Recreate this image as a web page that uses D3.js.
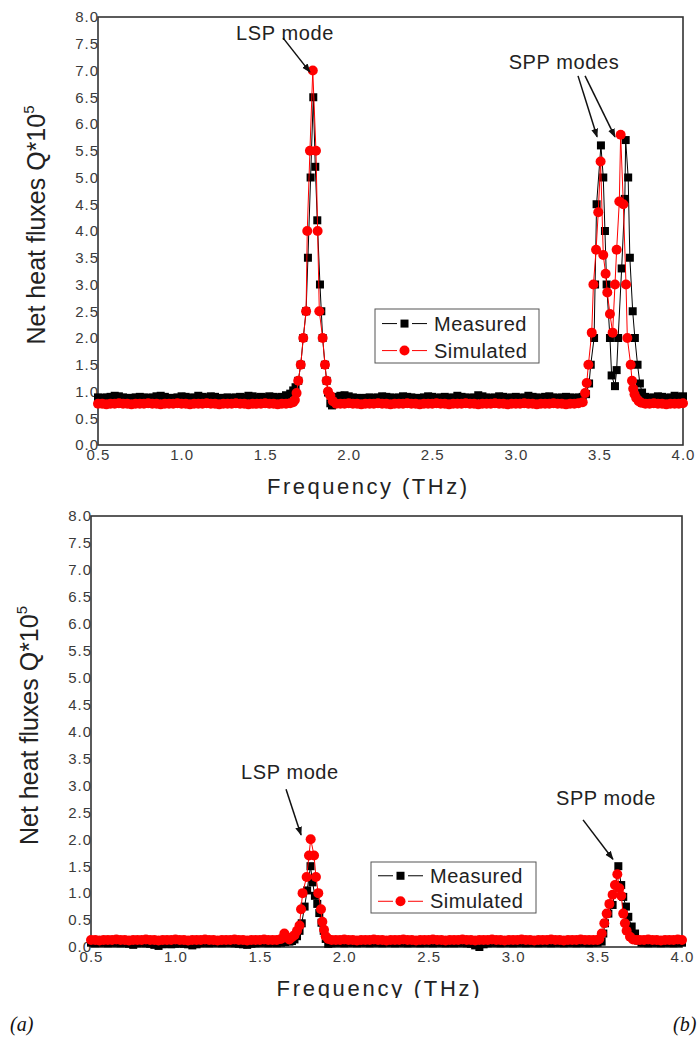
<!DOCTYPE html>
<html>
<head>
<meta charset="utf-8">
<script src="https://cdn.jsdelivr.net/npm/d3@7"></script>
<style>
  body { margin: 0; background: #fff; }
  text { font-family: "Liberation Sans", Arial, sans-serif; }
</style>
</head>
<body>
<div id="plot"></div>
<script>
// ---- data: [frequency THz, Q*1e5] ----
const xTicks = [0.5, 1.0, 1.5, 2.0, 2.5, 3.0, 3.5, 4.0];
const yTicks = [0, 0.5, 1, 1.5, 2, 2.5, 3, 3.5, 4, 4.5, 5, 5.5, 6, 6.5, 7, 7.5, 8];
const seriesNames = ["Measured", "Simulated"];

// panel (a)
const measuredA = [
  [0.5,.89],[0.525,.88],[0.55,.89],[0.575,.9],[0.6,.92],[0.625,.91],[0.65,.89],[0.675,.88],[0.7,.88],[0.725,.89],
  [0.75,.9],[0.775,.89],[0.8,.88],[0.825,.89],[0.85,.91],[0.875,.92],[0.9,.9],[0.925,.88],[0.95,.88],[0.975,.89],
  [1.0,.91],[1.025,.9],[1.05,.88],[1.075,.89],[1.1,.92],[1.125,.9],[1.15,.89],[1.175,.91],[1.2,.9],[1.225,.88],
  [1.25,.88],[1.275,.89],[1.3,.88],[1.325,.89],[1.35,.9],[1.375,.89],[1.4,.92],[1.425,.91],[1.45,.89],[1.475,.9],
  [1.5,.89],[1.525,.91],[1.55,.9],[1.575,.89],[1.6,.9],[1.625,.93],[1.65,.96],[1.668,1.02],[1.682,1.08],
  [1.698,1.2],[1.713,1.5],[1.728,2.0],[1.745,2.5],[1.756,3.5],[1.772,5.0],[1.788,6.5],[1.8,5.2],[1.812,4.2],
  [1.828,3.0],[1.836,2.5],[1.844,2.0],[1.858,1.5],[1.868,1.2],[1.876,.98],[1.89,.78],[1.9,.74],[1.912,.86],
  [1.925,.9],[1.95,.92],[1.975,.93],[2.0,.91],[2.025,.89],[2.05,.88],[2.075,.88],[2.1,.88],[2.125,.89],[2.15,.88],
  [2.175,.89],[2.2,.91],[2.225,.9],[2.25,.89],[2.275,.88],[2.3,.89],[2.325,.91],[2.35,.9],[2.375,.89],[2.4,.88],
  [2.425,.88],[2.45,.89],[2.475,.91],[2.5,.9],[2.525,.88],[2.55,.89],[2.575,.9],[2.6,.88],[2.625,.89],[2.65,.92],
  [2.675,.9],[2.7,.89],[2.725,.88],[2.75,.89],[2.775,.93],[2.8,.91],[2.825,.89],[2.85,.88],[2.875,.89],[2.9,.91],
  [2.925,.9],[2.95,.88],[2.975,.89],[3.0,.9],[3.025,.88],[3.05,.89],[3.075,.92],[3.1,.9],[3.125,.89],[3.15,.88],
  [3.175,.9],[3.2,.91],[3.225,.89],[3.25,.88],[3.275,.89],[3.3,.9],[3.325,.89],[3.35,.88],[3.375,.89],[3.4,.9],
  [3.42,.95],[3.438,1.15],[3.448,1.5],[3.468,2.0],[3.474,3.0],[3.483,4.5],[3.509,5.6],[3.523,5.0],[3.533,4.0],
  [3.543,3.0],[3.563,2.0],[3.573,1.3],[3.593,1.1],[3.603,1.4],[3.612,2.0],[3.633,3.3],[3.652,4.6],[3.657,5.7],
  [3.672,5.0],[3.682,3.5],[3.699,2.5],[3.712,2.0],[3.728,1.5],[3.742,1.15],[3.755,.98],[3.775,.9],[3.8,.88],
  [3.825,.89],[3.85,.91],[3.875,.9],[3.9,.88],[3.925,.89],[3.95,.92],[3.975,.9],[4.0,.91]
];
const simulatedA = [
  [0.5,.77],[0.525,.77],[0.55,.76],[0.575,.77],[0.6,.77],[0.625,.78],[0.65,.77],[0.675,.77],[0.7,.76],[0.725,.77],
  [0.75,.77],[0.775,.77],[0.8,.78],[0.825,.77],[0.85,.77],[0.875,.76],[0.9,.77],[0.925,.77],[0.95,.77],[0.975,.78],
  [1.0,.77],[1.025,.77],[1.05,.76],[1.075,.77],[1.1,.77],[1.125,.77],[1.15,.78],[1.175,.77],[1.2,.77],[1.225,.76],
  [1.25,.77],[1.275,.77],[1.3,.77],[1.325,.78],[1.35,.77],[1.375,.77],[1.4,.76],[1.425,.77],[1.45,.77],[1.475,.77],
  [1.5,.78],[1.525,.77],[1.55,.77],[1.575,.76],[1.6,.77],[1.625,.77],[1.65,.78],[1.668,.8],[1.678,.84],
  [1.688,.97],[1.698,1.2],[1.713,1.5],[1.728,2.0],[1.745,2.5],[1.752,4.0],[1.768,5.5],[1.785,7.0],[1.804,5.5],
  [1.814,4.0],[1.824,2.5],[1.844,2.0],[1.858,1.5],[1.868,1.2],[1.876,1.0],[1.89,.92],[1.905,.82],[1.925,.77],
  [1.95,.77],[1.975,.77],[2.0,.78],[2.025,.77],[2.05,.77],[2.075,.76],[2.1,.77],[2.125,.77],[2.15,.77],[2.175,.78],
  [2.2,.77],[2.225,.77],[2.25,.76],[2.275,.77],[2.3,.77],[2.325,.77],[2.35,.78],[2.375,.77],[2.4,.77],[2.425,.76],
  [2.45,.77],[2.475,.77],[2.5,.77],[2.525,.78],[2.55,.77],[2.575,.77],[2.6,.76],[2.625,.77],[2.65,.77],[2.675,.77],
  [2.7,.78],[2.725,.77],[2.75,.77],[2.775,.76],[2.8,.77],[2.825,.77],[2.85,.77],[2.875,.78],[2.9,.77],[2.925,.77],
  [2.95,.76],[2.975,.77],[3.0,.77],[3.025,.77],[3.05,.78],[3.075,.77],[3.1,.77],[3.125,.76],[3.15,.77],[3.175,.77],
  [3.2,.77],[3.225,.78],[3.25,.77],[3.275,.77],[3.3,.76],[3.325,.77],[3.35,.77],[3.375,.78],[3.4,.8],[3.414,.97],
  [3.424,1.16],[3.434,1.5],[3.454,2.1],[3.464,3.0],[3.48,3.65],[3.493,4.35],[3.507,5.3],[3.523,3.55],[3.537,3.2],
  [3.547,2.85],[3.563,2.45],[3.579,2.1],[3.593,3.0],[3.603,3.65],[3.619,4.55],[3.627,5.8],[3.643,4.5],[3.659,3.0],
  [3.667,2.0],[3.687,1.5],[3.695,1.2],[3.702,1.05],[3.71,.95],[3.72,.88],[3.735,.82],[3.75,.79],[3.775,.77],
  [3.8,.77],[3.825,.78],[3.85,.77],[3.875,.77],[3.9,.76],[3.925,.77],[3.95,.77],[3.975,.77],[4.0,.78]
];

// panel (b)
const measuredB = [
  [0.5,.08],[0.525,.07],[0.55,.08],[0.575,.08],[0.6,.07],[0.625,.08],[0.65,.08],[0.675,.07],[0.7,.08],[0.725,.06],
  [0.75,.04],[0.775,.07],[0.8,.08],[0.825,.07],[0.85,.06],[0.875,.04],[0.9,.02],[0.925,.05],[0.95,.06],[0.975,.05],
  [1.0,.06],[1.025,.07],[1.05,.06],[1.075,.05],[1.1,.03],[1.125,.05],[1.15,.07],[1.175,.08],[1.2,.07],[1.225,.08],
  [1.25,.08],[1.275,.07],[1.3,.08],[1.325,.08],[1.35,.07],[1.375,.06],[1.4,.05],[1.425,.04],[1.45,.06],[1.475,.07],
  [1.5,.08],[1.525,.08],[1.55,.07],[1.575,.08],[1.6,.07],[1.625,.08],[1.65,.09],[1.675,.1],[1.69,.11],[1.705,.14],
  [1.72,.2],[1.735,.3],[1.748,.44],[1.765,.75],[1.78,1.05],[1.8,1.5],[1.812,1.2],[1.826,.95],[1.84,.8],[1.852,.63],
  [1.865,.45],[1.878,.3],[1.89,.15],[1.905,.06],[1.925,.07],[1.95,.08],[1.975,.08],[2.0,.07],[2.025,.08],[2.05,.08],
  [2.075,.07],[2.1,.08],[2.125,.08],[2.15,.07],[2.175,.08],[2.2,.08],[2.225,.07],[2.25,.08],[2.275,.08],[2.3,.07],
  [2.325,.08],[2.35,.08],[2.375,.07],[2.4,.08],[2.425,.08],[2.45,.07],[2.475,.08],[2.5,.08],[2.525,.07],[2.55,.08],
  [2.575,.08],[2.6,.07],[2.625,.08],[2.65,.07],[2.675,.08],[2.7,.08],[2.725,.07],[2.75,.06],[2.775,.03],[2.8,0.0],
  [2.825,.05],[2.85,.07],[2.875,.08],[2.9,.08],[2.925,.07],[2.95,.08],[2.975,.08],[3.0,.07],[3.025,.08],[3.05,.08],
  [3.075,.07],[3.1,.08],[3.125,.08],[3.15,.07],[3.175,.08],[3.2,.08],[3.225,.07],[3.25,.08],[3.275,.08],[3.3,.07],
  [3.325,.08],[3.35,.08],[3.375,.07],[3.4,.08],[3.425,.08],[3.45,.07],[3.475,.08],[3.5,.08],[3.524,.1],[3.534,.25],
  [3.544,.44],[3.564,.62],[3.589,.78],[3.61,1.15],[3.623,1.5],[3.64,1.15],[3.652,.93],[3.668,.75],[3.682,.56],
  [3.702,.38],[3.722,.25],[3.74,.12],[3.76,.08],[3.775,.08],[3.8,.07],[3.825,.08],[3.85,.08],[3.875,.07],[3.9,.08],
  [3.925,.08],[3.95,.07],[3.975,.08],[4.0,.08]
];
const simulatedB = [
  [0.5,.13],[0.525,.13],[0.55,.12],[0.575,.13],[0.6,.13],[0.625,.13],[0.65,.14],[0.675,.13],[0.7,.13],[0.725,.12],
  [0.75,.13],[0.775,.13],[0.8,.13],[0.825,.14],[0.85,.13],[0.875,.13],[0.9,.12],[0.925,.13],[0.95,.13],[0.975,.13],
  [1.0,.14],[1.025,.13],[1.05,.13],[1.075,.12],[1.1,.13],[1.125,.13],[1.15,.13],[1.175,.14],[1.2,.13],[1.225,.13],
  [1.25,.12],[1.275,.13],[1.3,.13],[1.325,.13],[1.35,.14],[1.375,.13],[1.4,.13],[1.425,.12],[1.45,.13],[1.475,.13],
  [1.5,.13],[1.525,.14],[1.55,.13],[1.575,.13],[1.6,.13],[1.625,.15],[1.645,.25],[1.66,.18],[1.675,.14],[1.69,.18],
  [1.705,.22],[1.72,.3],[1.735,.4],[1.744,.7],[1.753,1.0],[1.777,1.3],[1.791,1.7],[1.801,2.0],[1.821,1.7],
  [1.832,1.3],[1.846,1.0],[1.862,.7],[1.87,.47],[1.88,.32],[1.89,.2],[1.905,.15],[1.925,.13],[1.95,.13],[1.975,.13],
  [2.0,.14],[2.025,.13],[2.05,.13],[2.075,.12],[2.1,.13],[2.125,.13],[2.15,.13],[2.175,.14],[2.2,.13],[2.225,.13],
  [2.25,.12],[2.275,.13],[2.3,.13],[2.325,.13],[2.35,.14],[2.375,.13],[2.4,.13],[2.425,.12],[2.45,.13],[2.475,.13],
  [2.5,.13],[2.525,.14],[2.55,.13],[2.575,.13],[2.6,.12],[2.625,.13],[2.65,.13],[2.675,.13],[2.7,.14],[2.725,.13],
  [2.75,.13],[2.775,.12],[2.8,.13],[2.825,.13],[2.85,.13],[2.875,.14],[2.9,.13],[2.925,.13],[2.95,.12],[2.975,.13],
  [3.0,.13],[3.025,.13],[3.05,.14],[3.075,.13],[3.1,.13],[3.125,.12],[3.15,.13],[3.175,.13],[3.2,.13],[3.225,.14],
  [3.25,.13],[3.275,.13],[3.3,.12],[3.325,.13],[3.35,.13],[3.375,.13],[3.4,.14],[3.425,.13],[3.45,.13],[3.475,.13],
  [3.5,.13],[3.51,.15],[3.525,.25],[3.54,.44],[3.554,.62],[3.57,.8],[3.589,.97],[3.603,1.15],[3.617,1.35],
  [3.629,1.09],[3.64,.95],[3.652,.62],[3.662,.44],[3.672,.3],[3.692,.19],[3.71,.14],[3.73,.13],[3.75,.13],
  [3.775,.13],[3.8,.14],[3.825,.13],[3.85,.13],[3.875,.12],[3.9,.13],[3.925,.13],[3.95,.13],[3.975,.14],[4.0,.13]
];

// annotations: label anchor and arrow (tail -> head) in data units
const notesA = [
  { text: "LSP mode", at: [1.619, 7.70], arrows: [[[1.607, 7.61], [1.768, 6.97]]] },
  { text: "SPP modes", at: [3.288, 7.16], arrows: [[[3.372, 6.90], [3.486, 5.76]], [[3.414, 6.90], [3.593, 5.76]]] }
];
const notesB = [
  { text: "LSP mode", at: [1.678, 3.25], arrows: [[[1.655, 2.93], [1.744, 2.08]]] },
  { text: "SPP mode", at: [3.55, 2.77], arrows: [[[3.414, 2.36], [3.591, 1.63]]] }
];

// ---- layout ----
const w = 697, h = 1037;
const panels = [
  { id: "a", left: 98, top: 17, right: 683, bottom: 445, measured: measuredA, simulated: simulatedA,
    notes: notesA, legend: { dx: 277, dy: 292, w: 164, h: 54 },
    ylabX: 45, xlabX: 367, xlabY: 494, xlabLen: 200 },
  { id: "b", left: 91, top: 516, right: 682, bottom: 947, measured: measuredB, simulated: simulatedB,
    notes: notesB, legend: { dx: 280, dy: 346, w: 165, h: 51 },
    ylabX: 38, xlabX: 378, xlabY: 996, xlabLen: 203 }
];

const svg = d3.select("div#plot")
  .append("svg")
  .attr("width", w)
  .attr("height", h);

const defs = svg.append("defs");
defs.append("marker")
  .attr("id", "arrowhead")
  .attr("viewBox", "0 0 10 10")
  .attr("refX", 9)
  .attr("refY", 5)
  .attr("markerWidth", 6)
  .attr("markerHeight", 6)
  .attr("orient", "auto")
  .append("path")
  .attr("d", "M0,1.2L10,5L0,8.8Z")
  .attr("fill", "#111");

// bottom x label of (b) is cut off in the source
defs.append("clipPath")
  .attr("id", "cutbottom")
  .append("rect")
  .attr("x", 0).attr("y", 0).attr("width", w).attr("height", 998);

function drawSquares(g, data, x, y, s) {
  g.selectAll("rect")
    .data(data)
    .enter()
    .append("rect")
    .attr("x", d => x(d[0]) - s / 2)
    .attr("y", d => y(d[1]) - s / 2)
    .attr("width", s)
    .attr("height", s)
    .style("fill", "#000");
}

function drawCircles(g, data, x, y, r) {
  g.selectAll("circle")
    .data(data)
    .enter()
    .append("circle")
    .attr("cx", d => x(d[0]))
    .attr("cy", d => y(d[1]))
    .attr("r", r)
    .style("fill", "#ff0000");
}

function drawPanel(p) {
  const xScale = d3.scaleLinear().domain([0.5, 4.0]).range([p.left, p.right]);
  const yScale = d3.scaleLinear().domain([0, 8]).range([p.bottom, p.top]);
  const line = d3.line().x(d => xScale(d[0])).y(d => yScale(d[1]));

  const g = svg.append("g").attr("id", "panel-" + p.id);

  // frame
  g.append("rect")
    .attr("x", p.left)
    .attr("y", p.top)
    .attr("width", p.right - p.left)
    .attr("height", p.bottom - p.top)
    .attr("fill", "none")
    .attr("stroke", "#333")
    .attr("stroke-width", 1.6);

  // x axis
  const xAxis = d3.axisBottom(xScale).tickValues(xTicks).tickSize(0).tickPadding(4)
    .tickFormat(d3.format(".1f"));
  const gx = g.append("g")
    .attr("transform", `translate(0, ${p.bottom})`)
    .call(xAxis);
  gx.select(".domain").remove();
  gx.selectAll("text")
    .attr("fill", "#3a3a3a")
    .style("font-size", "15px")
    .style("letter-spacing", "1px")
    .style("font-family", "'Liberation Sans', Arial, sans-serif");

  // y axis
  const yAxis = d3.axisLeft(yScale).tickValues(yTicks).tickSize(0).tickPadding(-1)
    .tickFormat(d3.format(".1f"));
  const gy = g.append("g")
    .attr("transform", `translate(${p.left}, 0)`)
    .call(yAxis);
  gy.select(".domain").remove();
  gy.selectAll("text")
    .attr("fill", "#3a3a3a")
    .style("font-size", "15px")
    .style("letter-spacing", "1px")
    .style("font-family", "'Liberation Sans', Arial, sans-serif");

  // axis labels
  const xl = g.append("text")
    .attr("x", p.xlabX)
    .attr("y", p.xlabY)
    .attr("text-anchor", "middle")
    .attr("textLength", p.xlabLen)
    .attr("lengthAdjust", "spacing")
    .attr("fill", "#222")
    .style("font-size", "22px")
    .text("Frequency (THz)");
  if (p.id === "b") xl.attr("clip-path", "url(#cutbottom)");

  const cy = (p.top + p.bottom) / 2 - 6;
  const yl = g.append("text")
    .attr("text-anchor", "middle")
    .attr("transform", `translate(${p.ylabX}, ${cy}) rotate(-90)`)
    .attr("fill", "#222")
    .style("font-size", "25px");
  yl.append("tspan").text("Net heat fluxes Q*10");
  yl.append("tspan").attr("dy", -11).style("font-size", "15px").text("5");

  // measured series
  g.append("path")
    .datum(p.measured)
    .attr("d", line)
    .attr("fill", "none")
    .attr("stroke", "#000")
    .attr("stroke-width", 1);
  drawSquares(g.append("g").attr("class", "measured"), p.measured, xScale, yScale, 8);

  // simulated series
  g.append("path")
    .datum(p.simulated)
    .attr("d", line)
    .attr("fill", "none")
    .attr("stroke", "#ff0000")
    .attr("stroke-width", 1);
  drawCircles(g.append("g").attr("class", "simulated"), p.simulated, xScale, yScale, 5);

  // annotations
  p.notes.forEach(n => {
    g.append("text")
      .attr("x", xScale(n.at[0]))
      .attr("y", yScale(n.at[1]))
      .attr("dy", "0.35em")
      .attr("text-anchor", "middle")
      .attr("fill", "#222")
      .style("font-size", "20px")
      .style("letter-spacing", "0.6px")
      .text(n.text);
    n.arrows.forEach(a => {
      g.append("line")
        .attr("x1", xScale(a[0][0]))
        .attr("y1", yScale(a[0][1]))
        .attr("x2", xScale(a[1][0]))
        .attr("y2", yScale(a[1][1]))
        .attr("stroke", "#111")
        .attr("stroke-width", 1.5)
        .attr("marker-end", "url(#arrowhead)");
    });
  });

  // legend
  const lg = g.append("g")
    .attr("transform", `translate(${p.left + p.legend.dx}, ${p.top + p.legend.dy})`);
  lg.append("rect")
    .attr("width", p.legend.w)
    .attr("height", p.legend.h)
    .attr("fill", "#fff")
    .attr("stroke", "#555")
    .attr("stroke-width", 1);
  const rowY = [p.legend.h * 0.27, p.legend.h * 0.77];
  seriesNames.forEach((name, i) => {
    const col = i === 0 ? "#000" : "#ff0000";
    const ry = rowY[i];
    lg.append("line").attr("x1", 7).attr("x2", 22).attr("y1", ry).attr("y2", ry)
      .attr("stroke", col).attr("stroke-width", 1);
    lg.append("line").attr("x1", 37).attr("x2", 52).attr("y1", ry).attr("y2", ry)
      .attr("stroke", col).attr("stroke-width", 1);
    if (i === 0) {
      lg.append("rect").attr("x", 25.5).attr("y", ry - 4).attr("width", 8).attr("height", 8).attr("fill", col);
    } else {
      lg.append("circle").attr("cx", 29.5).attr("cy", ry).attr("r", 5).attr("fill", col);
    }
    lg.append("text")
      .attr("x", 59)
      .attr("y", ry)
      .attr("dy", "0.35em")
      .attr("fill", "#222")
      .style("font-size", "20px")
      .style("letter-spacing", "0.5px")
      .text(name);
  });
}

panels.forEach(drawPanel);

// panel tags
svg.append("text")
  .attr("x", 10)
  .attr("y", 1031)
  .attr("fill", "#111")
  .style("font-family", "'Liberation Serif', 'DejaVu Serif', serif")
  .style("font-style", "italic")
  .style("font-size", "20px")
  .text("(a)");
svg.append("text")
  .attr("x", 673)
  .attr("y", 1031)
  .attr("fill", "#111")
  .style("font-family", "'Liberation Serif', 'DejaVu Serif', serif")
  .style("font-style", "italic")
  .style("font-size", "20px")
  .text("(b)");
</script>
</body>
</html>
